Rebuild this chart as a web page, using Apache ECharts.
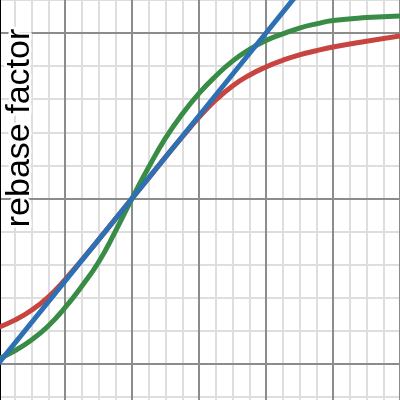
<!DOCTYPE html>
<html>
<head>
<meta charset="utf-8">
<script src="https://cdn.jsdelivr.net/npm/echarts@6/dist/echarts.min.js"></script>
<style>
html,body{margin:0;padding:0;background:#fff;}
#chart{width:400px;height:400px;}
</style>
</head>
<body>
<div id="chart"></div>
<script>
const xs = [0,0.25,0.5,0.75,1,1.25,1.5,1.75,2,2.25,2.5,2.75,3,3.25,3.5,3.75,4,4.25,4.5,4.75,5,5.5,6];
const redY = [0.22,0.265,0.325,0.405,0.51,0.628,0.75,0.875,1.0,1.125,1.25,1.372,1.49,1.595,1.68,1.745,1.795,1.835,1.868,1.893,1.915,1.95,1.982];
const greenY = [0.03,0.08,0.145,0.23,0.34,0.47,0.615,0.80,1.0,1.19,1.365,1.51,1.635,1.74,1.83,1.90,1.955,1.995,2.03,2.055,2.075,2.093,2.103];
const blueX = [0,2,4,6];
const blueY = [0,1,2,3];
const yLabel = 'rebase factor';

const pair = (a, b) => a.map((v, i) => [v, b[i]]);

const chart = echarts.init(document.getElementById('chart'), null, {renderer: 'canvas'});
const hidden = {axisLine: {show: false}, axisTick: {show: false}, axisLabel: {show: false}};
const majorLine = {show: true, lineStyle: {color: '#8c8c8c', width: 2}};
const minorLine = {show: true, lineStyle: {color: '#dedede', width: 2}};
chart.setOption({
  animation: false,
  backgroundColor: '#fff',
  grid: {left: -2, top: -132.5, width: 402, height: 662, containLabel: false, outerBoundsMode: 'none'},
  xAxis: [
    Object.assign({type: 'value', min: 0, max: 6, interval: 0.25, splitLine: minorLine, z: 0}, hidden),
    Object.assign({type: 'value', min: 0, max: 6, interval: 1, splitLine: majorLine, z: 1}, hidden)
  ],
  yAxis: [
    Object.assign({type: 'value', min: -1, max: 3, interval: 0.2, splitLine: minorLine, z: 0}, hidden),
    {type: 'value', min: -1, max: 3, interval: 1, splitLine: majorLine, z: 1,
     axisLine: {show: true, onZero: false, lineStyle: {color: '#000', width: 6}},
     axisTick: {show: false}, axisLabel: {show: false}, position: 'left'}
  ],
  series: [
    {type: 'line', data: pair(xs, redY), smooth: 0.5, showSymbol: false,
     lineStyle: {color: '#c74440', width: 5}, z: 3},
    {type: 'line', data: pair(xs, greenY), smooth: 0.5, showSymbol: false,
     lineStyle: {color: '#388c46', width: 5}, z: 4},
    {type: 'line', data: pair(blueX, blueY), showSymbol: false,
     lineStyle: {color: '#2d70b3', width: 5}, z: 5}
  ],
  graphic: [{
    type: 'text', x: 20, y: 128, rotation: Math.PI / 2, z: 100,
    style: {text: yLabel, font: '34px "Liberation Sans", Arial, sans-serif', fill: '#000',
            align: 'center', verticalAlign: 'middle', stroke: '#fff', lineWidth: 5}
  }]
});
</script>
</body>
</html>
